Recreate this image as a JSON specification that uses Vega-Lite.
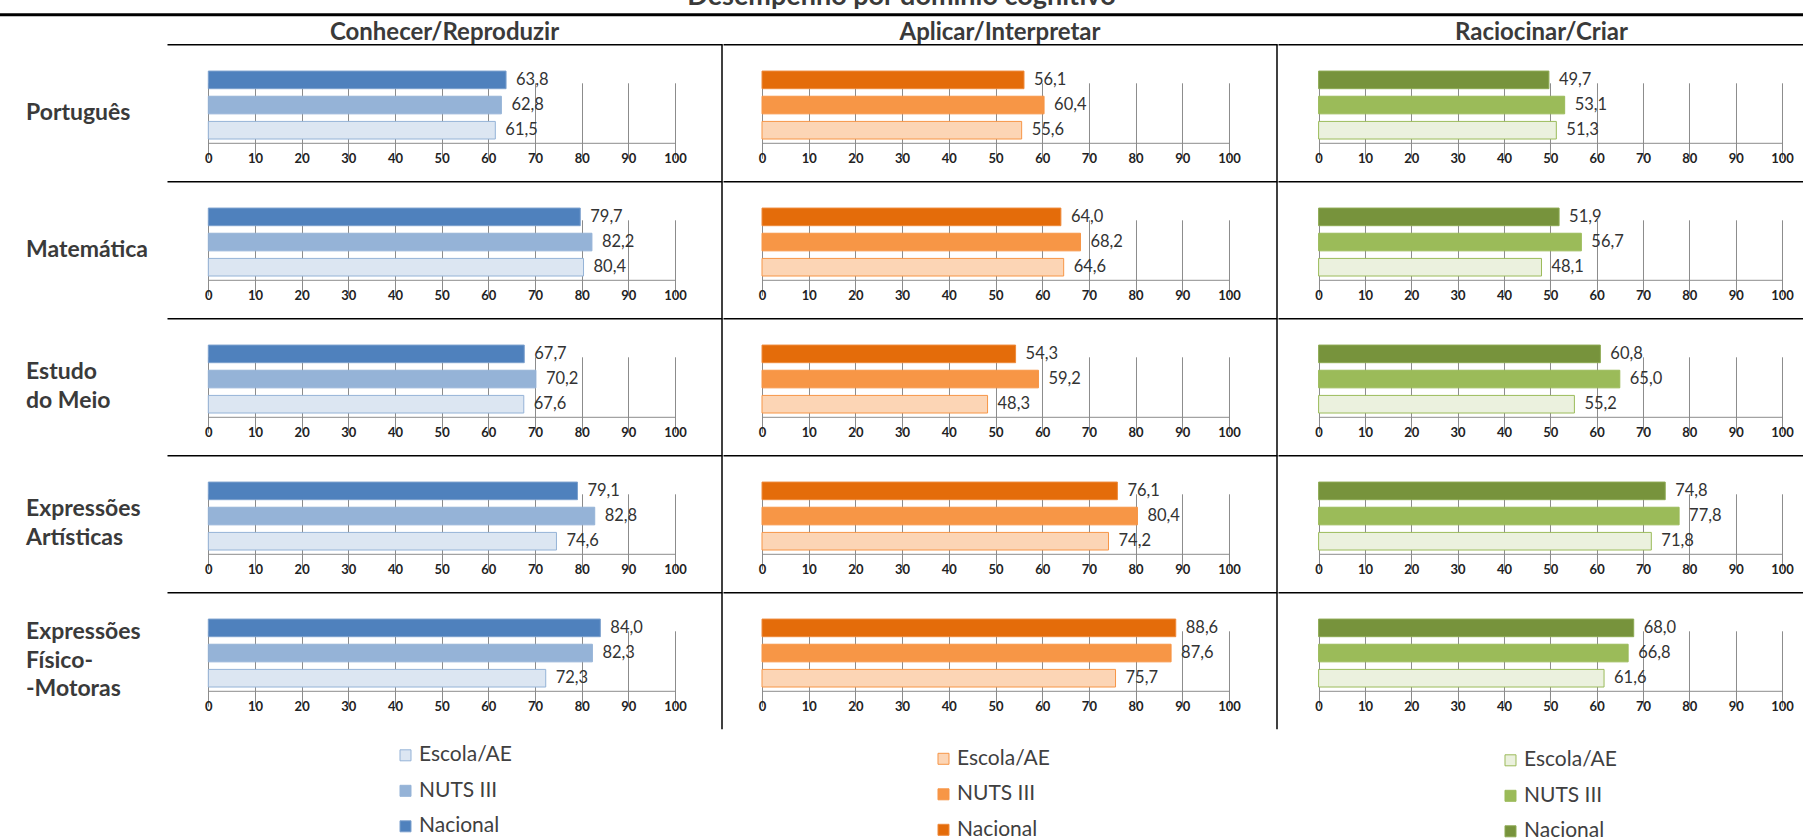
{
  "$schema": "https://vega.github.io/schema/vega-lite/v6.json",
  "padding": {"left": 0, "top": -16.7, "right": 0, "bottom": 0},
  "background": "white",
  "datasets": {
    "d": [
      {"disciplina": "Português", "dominio": "Conhecer/Reproduzir", "nivel": "Nacional", "valor": 63.8},
      {"disciplina": "Português", "dominio": "Conhecer/Reproduzir", "nivel": "NUTS III", "valor": 62.8},
      {"disciplina": "Português", "dominio": "Conhecer/Reproduzir", "nivel": "Escola/AE", "valor": 61.5},
      {"disciplina": "Matemática", "dominio": "Conhecer/Reproduzir", "nivel": "Nacional", "valor": 79.7},
      {"disciplina": "Matemática", "dominio": "Conhecer/Reproduzir", "nivel": "NUTS III", "valor": 82.2},
      {"disciplina": "Matemática", "dominio": "Conhecer/Reproduzir", "nivel": "Escola/AE", "valor": 80.4},
      {"disciplina": "Estudo do Meio", "dominio": "Conhecer/Reproduzir", "nivel": "Nacional", "valor": 67.7},
      {"disciplina": "Estudo do Meio", "dominio": "Conhecer/Reproduzir", "nivel": "NUTS III", "valor": 70.2},
      {"disciplina": "Estudo do Meio", "dominio": "Conhecer/Reproduzir", "nivel": "Escola/AE", "valor": 67.6},
      {"disciplina": "Expressões Artísticas", "dominio": "Conhecer/Reproduzir", "nivel": "Nacional", "valor": 79.1},
      {"disciplina": "Expressões Artísticas", "dominio": "Conhecer/Reproduzir", "nivel": "NUTS III", "valor": 82.8},
      {"disciplina": "Expressões Artísticas", "dominio": "Conhecer/Reproduzir", "nivel": "Escola/AE", "valor": 74.6},
      {"disciplina": "Expressões Físico-Motoras", "dominio": "Conhecer/Reproduzir", "nivel": "Nacional", "valor": 84.0},
      {"disciplina": "Expressões Físico-Motoras", "dominio": "Conhecer/Reproduzir", "nivel": "NUTS III", "valor": 82.3},
      {"disciplina": "Expressões Físico-Motoras", "dominio": "Conhecer/Reproduzir", "nivel": "Escola/AE", "valor": 72.3},
      {"disciplina": "Português", "dominio": "Aplicar/Interpretar", "nivel": "Nacional", "valor": 56.1},
      {"disciplina": "Português", "dominio": "Aplicar/Interpretar", "nivel": "NUTS III", "valor": 60.4},
      {"disciplina": "Português", "dominio": "Aplicar/Interpretar", "nivel": "Escola/AE", "valor": 55.6},
      {"disciplina": "Matemática", "dominio": "Aplicar/Interpretar", "nivel": "Nacional", "valor": 64.0},
      {"disciplina": "Matemática", "dominio": "Aplicar/Interpretar", "nivel": "NUTS III", "valor": 68.2},
      {"disciplina": "Matemática", "dominio": "Aplicar/Interpretar", "nivel": "Escola/AE", "valor": 64.6},
      {"disciplina": "Estudo do Meio", "dominio": "Aplicar/Interpretar", "nivel": "Nacional", "valor": 54.3},
      {"disciplina": "Estudo do Meio", "dominio": "Aplicar/Interpretar", "nivel": "NUTS III", "valor": 59.2},
      {"disciplina": "Estudo do Meio", "dominio": "Aplicar/Interpretar", "nivel": "Escola/AE", "valor": 48.3},
      {"disciplina": "Expressões Artísticas", "dominio": "Aplicar/Interpretar", "nivel": "Nacional", "valor": 76.1},
      {"disciplina": "Expressões Artísticas", "dominio": "Aplicar/Interpretar", "nivel": "NUTS III", "valor": 80.4},
      {"disciplina": "Expressões Artísticas", "dominio": "Aplicar/Interpretar", "nivel": "Escola/AE", "valor": 74.2},
      {"disciplina": "Expressões Físico-Motoras", "dominio": "Aplicar/Interpretar", "nivel": "Nacional", "valor": 88.6},
      {"disciplina": "Expressões Físico-Motoras", "dominio": "Aplicar/Interpretar", "nivel": "NUTS III", "valor": 87.6},
      {"disciplina": "Expressões Físico-Motoras", "dominio": "Aplicar/Interpretar", "nivel": "Escola/AE", "valor": 75.7},
      {"disciplina": "Português", "dominio": "Raciocinar/Criar", "nivel": "Nacional", "valor": 49.7},
      {"disciplina": "Português", "dominio": "Raciocinar/Criar", "nivel": "NUTS III", "valor": 53.1},
      {"disciplina": "Português", "dominio": "Raciocinar/Criar", "nivel": "Escola/AE", "valor": 51.3},
      {"disciplina": "Matemática", "dominio": "Raciocinar/Criar", "nivel": "Nacional", "valor": 51.9},
      {"disciplina": "Matemática", "dominio": "Raciocinar/Criar", "nivel": "NUTS III", "valor": 56.7},
      {"disciplina": "Matemática", "dominio": "Raciocinar/Criar", "nivel": "Escola/AE", "valor": 48.1},
      {"disciplina": "Estudo do Meio", "dominio": "Raciocinar/Criar", "nivel": "Nacional", "valor": 60.8},
      {"disciplina": "Estudo do Meio", "dominio": "Raciocinar/Criar", "nivel": "NUTS III", "valor": 65.0},
      {"disciplina": "Estudo do Meio", "dominio": "Raciocinar/Criar", "nivel": "Escola/AE", "valor": 55.2},
      {"disciplina": "Expressões Artísticas", "dominio": "Raciocinar/Criar", "nivel": "Nacional", "valor": 74.8},
      {"disciplina": "Expressões Artísticas", "dominio": "Raciocinar/Criar", "nivel": "NUTS III", "valor": 77.8},
      {"disciplina": "Expressões Artísticas", "dominio": "Raciocinar/Criar", "nivel": "Escola/AE", "valor": 71.8},
      {"disciplina": "Expressões Físico-Motoras", "dominio": "Raciocinar/Criar", "nivel": "Nacional", "valor": 68.0},
      {"disciplina": "Expressões Físico-Motoras", "dominio": "Raciocinar/Criar", "nivel": "NUTS III", "valor": 66.8},
      {"disciplina": "Expressões Físico-Motoras", "dominio": "Raciocinar/Criar", "nivel": "Escola/AE", "valor": 61.6}
    ]
  },
  "vconcat": [
    {
      "data": {"name": "d"},
      "transform": [{"filter": "datum.disciplina == 'Português' && datum.dominio == 'Conhecer/Reproduzir' && datum.nivel == 'Nacional'"}],
      "width": 1636,
      "height": 3,
      "title": {"text": "Desempenho por domínio cognitivo", "fontSize": 27, "font": "Lato", "fontWeight": "bold", "color": "#3a3a3a", "anchor": "middle", "frame": "bounds", "offset": 2},
      "mark": {"type": "rect", "color": "#000000"},
      "encoding": {
        "x": {"datum": -167, "type": "quantitative", "scale": {"domain": [0, 1636], "nice": false, "zero": false}, "axis": null},
        "x2": {"datum": 1636}
      }
    },
    {
      "hconcat": [
        {
          "data": {"name": "d"},
          "transform": [{"filter": "datum.dominio == 'Conhecer/Reproduzir'"}],
          "facet": {
            "row": {"field": "disciplina", "type": "nominal",
              "sort": ["Português", "Matemática", "Estudo do Meio", "Expressões Artísticas", "Expressões Físico-Motoras"],
              "header": {"title": null, "labels": false}},
            "column": {"field": "dominio", "type": "nominal",
              "header": {"title": null, "labelFontSize": 24, "labelFontWeight": "bold", "labelFont": "Lato", "labelColor": "#3a3a3a", "labelPadding": -1}}
          },
          "spacing": 0,
          "bounds": "flush",
          "resolve": {"axis": {"x": "independent"}},
          "spec": {
            "width": 555, "height": 137,
            "resolve": {"scale": {"x": "independent"}},
            "layer": [
              {
                "layer": [
                  {
                    "mark": {"type": "bar", "strokeWidth": 1},
                    "encoding": {
                      "x": {"field": "valor", "type": "quantitative", "scale": {"domain": [0, 100], "range": [41.3, 508], "nice": false},
                        "axis": {"orient": "bottom", "offset": -38.5, "values": [0, 10, 20, 30, 40, 50, 60, 70, 80, 90, 100], "grid": true, "gridColor": "#8c8c8c", "domainColor": "#8c8c8c", "tickColor": "#8c8c8c", "tickSize": 5, "labelFont": "Lato", "labelFontWeight": "bold", "labelFontSize": 13, "labelColor": "#222222", "labelPadding": 5, "title": null, "labelFlush": false}},
                      "y": {"field": "nivel", "type": "nominal", "sort": ["Nacional", "NUTS III", "Escola/AE"], "scale": {"range": [23, 98.5], "paddingInner": 0.3, "paddingOuter": 0.15}, "axis": null},
                      "color": {"field": "nivel", "type": "nominal", "scale": {"domain": ["Escola/AE", "NUTS III", "Nacional"], "range": ["#DCE6F2", "#95B3D7", "#4F81BD"]},
                        "legend": {"orient": "none", "legendX": 228, "legendY": 700.5, "direction": "vertical", "title": null, "symbolType": "square", "symbolSize": 121, "symbolStrokeColor": "#95B3D7", "symbolStrokeWidth": 1, "labelOffset": 3, "labelFontSize": 21, "labelFont": "Lato", "labelColor": "#404040", "rowPadding": 13.5}},
                      "stroke": {"field": "nivel", "type": "nominal", "scale": {"domain": ["Escola/AE", "NUTS III", "Nacional"], "range": ["#95B3D7", "#95B3D7", "#7BA0CD"]}, "legend": null}
                    }
                  },
                  {
                    "mark": {"type": "text", "align": "left", "dx": 10, "fontSize": 16.5, "font": "Lato", "color": "#333333"},
                    "encoding": {
                      "x": {"field": "valor", "type": "quantitative"},
                      "y": {"field": "nivel", "type": "nominal", "sort": ["Nacional", "NUTS III", "Escola/AE"]},
                      "text": {"field": "valor", "type": "quantitative", "format": ".1f"}
                    }
                  },
                  {
                    "transform": [{"filter": "datum.nivel == 'Nacional'"}],
                    "mark": {"type": "text", "align": "left", "baseline": "middle", "fontSize": 23, "fontWeight": "bold", "font": "Lato", "color": "#3a3a3a", "lineHeight": 28.5,
                      "dy": {"expr": "datum.disciplina == 'Expressões Físico-Motoras' ? -28.5 : (datum.disciplina == 'Estudo do Meio' || datum.disciplina == 'Expressões Artísticas') ? -14.5 : 0"},
                      "text": {"expr": "datum.disciplina == 'Estudo do Meio' ? ['Estudo', 'do Meio'] : datum.disciplina == 'Expressões Artísticas' ? ['Expressões', 'Artísticas'] : datum.disciplina == 'Expressões Físico-Motoras' ? ['Expressões', 'Físico-', '-Motoras'] : datum.disciplina"}},
                    "encoding": {"x": {"datum": -39.06, "type": "quantitative"}}
                  }
                ]
              },
              {
                "transform": [{"filter": "datum.nivel == 'Nacional'"}],
                "mark": {"type": "rule", "color": "#000000", "strokeWidth": 1.5},
                "encoding": {"x": {"datum": 1, "type": "quantitative", "scale": {"domain": [0, 1], "nice": false}, "axis": {"orient": "top", "domainColor": "#000000", "domainWidth": 1.5, "ticks": false, "labels": false, "grid": false, "title": null}}}
              }
            ]
          }
        },
        {
          "data": {"name": "d"},
          "transform": [{"filter": "datum.dominio == 'Aplicar/Interpretar'"}],
          "facet": {
            "row": {"field": "disciplina", "type": "nominal",
              "sort": ["Português", "Matemática", "Estudo do Meio", "Expressões Artísticas", "Expressões Físico-Motoras"],
              "header": {"title": null, "labels": false}},
            "column": {"field": "dominio", "type": "nominal",
              "header": {"title": null, "labelFontSize": 24, "labelFontWeight": "bold", "labelFont": "Lato", "labelColor": "#3a3a3a", "labelPadding": -1}}
          },
          "spacing": 0,
          "bounds": "flush",
          "resolve": {"axis": {"x": "independent"}},
          "spec": {
            "width": 554, "height": 137,
            "resolve": {"scale": {"x": "independent"}},
            "layer": [
              {
                "layer": [
                  {
                    "mark": {"type": "bar", "strokeWidth": 1},
                    "encoding": {
                      "x": {"field": "valor", "type": "quantitative", "scale": {"domain": [0, 100], "range": [39, 506], "nice": false},
                        "axis": {"orient": "bottom", "offset": -38.5, "values": [0, 10, 20, 30, 40, 50, 60, 70, 80, 90, 100], "grid": true, "gridColor": "#8c8c8c", "domainColor": "#8c8c8c", "tickColor": "#8c8c8c", "tickSize": 5, "labelFont": "Lato", "labelFontWeight": "bold", "labelFontSize": 13, "labelColor": "#222222", "labelPadding": 5, "title": null, "labelFlush": false}},
                      "y": {"field": "nivel", "type": "nominal", "sort": ["Nacional", "NUTS III", "Escola/AE"], "scale": {"range": [23, 98.5], "paddingInner": 0.3, "paddingOuter": 0.15}, "axis": null},
                      "color": {"field": "nivel", "type": "nominal", "scale": {"domain": ["Escola/AE", "NUTS III", "Nacional"], "range": ["#FCD5B5", "#F79646", "#E46C0A"]},
                        "legend": {"orient": "none", "legendX": 210, "legendY": 704, "direction": "vertical", "title": null, "symbolType": "square", "symbolSize": 121, "symbolStrokeColor": "#F79646", "symbolStrokeWidth": 1, "labelOffset": 3, "labelFontSize": 21, "labelFont": "Lato", "labelColor": "#404040", "rowPadding": 13.5}},
                      "stroke": {"field": "nivel", "type": "nominal", "scale": {"domain": ["Escola/AE", "NUTS III", "Nacional"], "range": ["#F79646", "#F79646", "#EE8A3A"]}, "legend": null}
                    }
                  },
                  {
                    "mark": {"type": "text", "align": "left", "dx": 10, "fontSize": 16.5, "font": "Lato", "color": "#333333"},
                    "encoding": {
                      "x": {"field": "valor", "type": "quantitative"},
                      "y": {"field": "nivel", "type": "nominal", "sort": ["Nacional", "NUTS III", "Escola/AE"]},
                      "text": {"field": "valor", "type": "quantitative", "format": ".1f"}
                    }
                  }
                ]
              },
              {
                "transform": [{"filter": "datum.nivel == 'Nacional'"}],
                "mark": {"type": "rule", "color": "#000000", "strokeWidth": 1.5},
                "encoding": {"x": {"datum": 1, "type": "quantitative", "scale": {"domain": [0, 1], "nice": false}, "axis": {"orient": "top", "domainColor": "#000000", "domainWidth": 1.5, "ticks": false, "labels": false, "grid": false, "title": null}}}
              }
            ]
          }
        },
        {
          "data": {"name": "d"},
          "transform": [{"filter": "datum.dominio == 'Raciocinar/Criar'"}],
          "facet": {
            "row": {"field": "disciplina", "type": "nominal",
              "sort": ["Português", "Matemática", "Estudo do Meio", "Expressões Artísticas", "Expressões Físico-Motoras"],
              "header": {"title": null, "labels": false}},
            "column": {"field": "dominio", "type": "nominal",
              "header": {"title": null, "labelFontSize": 24, "labelFontWeight": "bold", "labelFont": "Lato", "labelColor": "#3a3a3a", "labelPadding": -1}}
          },
          "spacing": 0,
          "bounds": "flush",
          "resolve": {"axis": {"x": "independent"}},
          "spec": {
            "width": 527, "height": 137,
            "resolve": {"scale": {"x": "independent"}},
            "layer": [
              {
                "layer": [
                  {
                    "mark": {"type": "bar", "strokeWidth": 1},
                    "encoding": {
                      "x": {"field": "valor", "type": "quantitative", "scale": {"domain": [0, 100], "range": [40.6, 504], "nice": false},
                        "axis": {"orient": "bottom", "offset": -38.5, "values": [0, 10, 20, 30, 40, 50, 60, 70, 80, 90, 100], "grid": true, "gridColor": "#8c8c8c", "domainColor": "#8c8c8c", "tickColor": "#8c8c8c", "tickSize": 5, "labelFont": "Lato", "labelFontWeight": "bold", "labelFontSize": 13, "labelColor": "#222222", "labelPadding": 5, "title": null, "labelFlush": false}},
                      "y": {"field": "nivel", "type": "nominal", "sort": ["Nacional", "NUTS III", "Escola/AE"], "scale": {"range": [23, 98.5], "paddingInner": 0.3, "paddingOuter": 0.15}, "axis": null},
                      "color": {"field": "nivel", "type": "nominal", "scale": {"domain": ["Escola/AE", "NUTS III", "Nacional"], "range": ["#EBF1DE", "#9BBB59", "#77933C"]},
                        "legend": {"orient": "none", "legendX": 222, "legendY": 705.5, "direction": "vertical", "title": null, "symbolType": "square", "symbolSize": 121, "symbolStrokeColor": "#9BBB59", "symbolStrokeWidth": 1, "labelOffset": 3, "labelFontSize": 21, "labelFont": "Lato", "labelColor": "#404040", "rowPadding": 13.5}},
                      "stroke": {"field": "nivel", "type": "nominal", "scale": {"domain": ["Escola/AE", "NUTS III", "Nacional"], "range": ["#9BBB59", "#9BBB59", "#8DAA52"]}, "legend": null}
                    }
                  },
                  {
                    "mark": {"type": "text", "align": "left", "dx": 10, "fontSize": 16.5, "font": "Lato", "color": "#333333"},
                    "encoding": {
                      "x": {"field": "valor", "type": "quantitative"},
                      "y": {"field": "nivel", "type": "nominal", "sort": ["Nacional", "NUTS III", "Escola/AE"]},
                      "text": {"field": "valor", "type": "quantitative", "format": ".1f"}
                    }
                  }
                ]
              },
              {
                "transform": [{"filter": "false"}],
                "mark": {"type": "rule", "color": "#000000", "strokeWidth": 1.5},
                "encoding": {"x": {"datum": 1, "type": "quantitative", "scale": {"domain": [0, 1], "nice": false}, "axis": {"orient": "top", "domainColor": "#000000", "domainWidth": 1.5, "ticks": false, "labels": false, "grid": false, "title": null}}}
              }
            ]
          }
        }
      ],
      "spacing": 0,
      "resolve": {"scale": {"color": "independent", "stroke": "independent"}, "legend": {"color": "independent"}}
    }
  ],
  "spacing": 5,
  "config": {
    "view": {"stroke": null},
    "font": "Lato",
    "locale": {"number": {"decimal": ",", "thousands": ".", "grouping": [3], "currency": ["", " €"]}}
  }
}
